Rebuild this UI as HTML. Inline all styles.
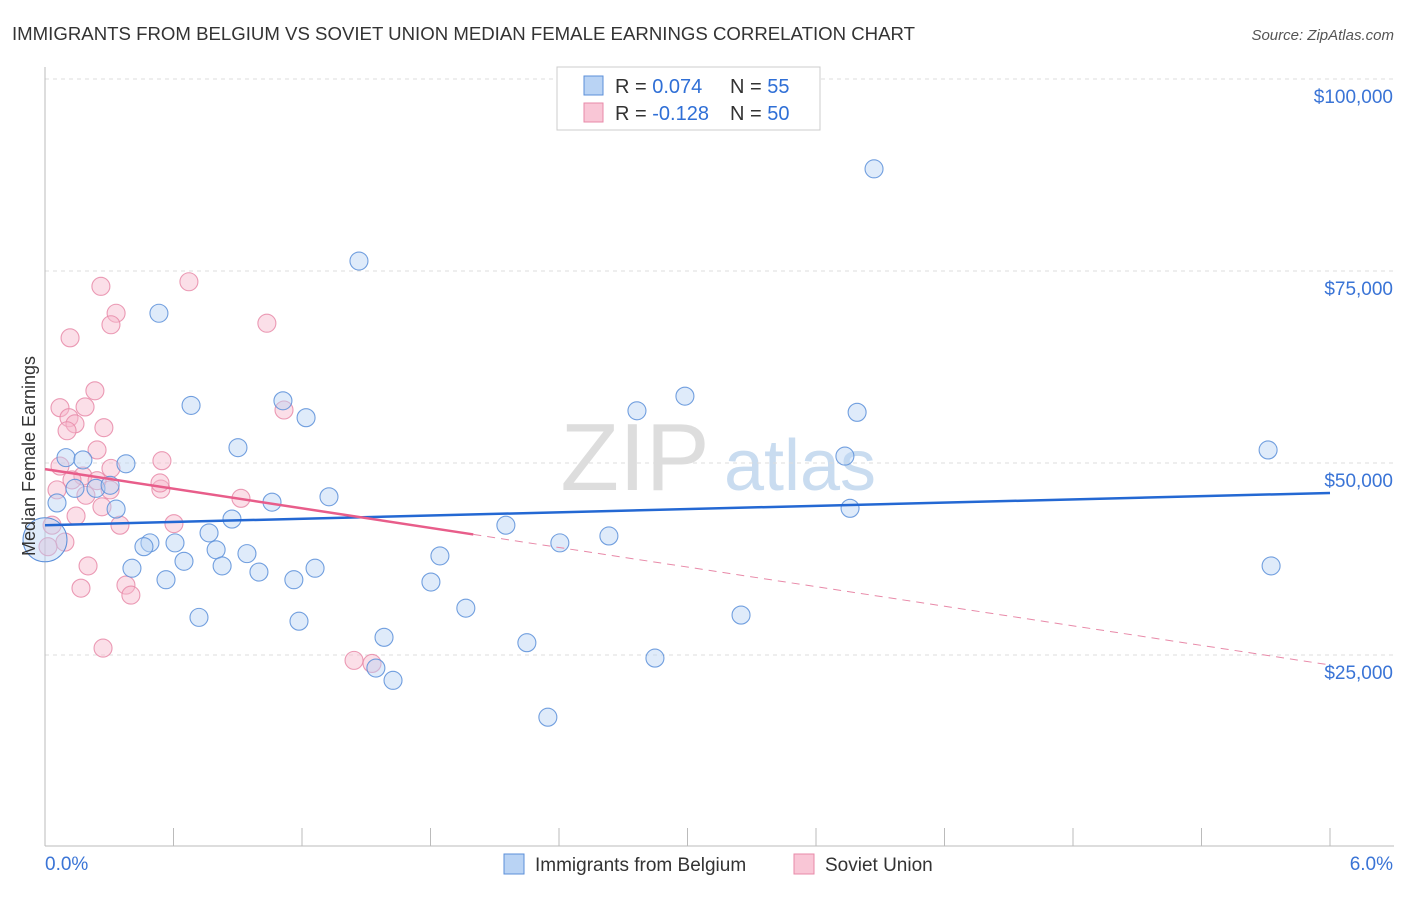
<!DOCTYPE html>
<html><head><meta charset="utf-8"><style>
body{margin:0;background:#fff;font-family:"Liberation Sans",sans-serif}
svg text{font-family:"Liberation Sans",sans-serif}
</style></head><body>
<svg id="chart" width="1406" height="892" xmlns="http://www.w3.org/2000/svg">
<text x="12" y="40" font-size="18" fill="#333" textLength="903" lengthAdjust="spacingAndGlyphs">IMMIGRANTS FROM BELGIUM VS SOVIET UNION MEDIAN FEMALE EARNINGS CORRELATION CHART</text>
<text x="1394" y="40" font-size="15" fill="#555" font-style="italic" text-anchor="end">Source: ZipAtlas.com</text>
<g><text x="635" y="490" font-size="96" fill="#ddd" font-family="Liberation Serif" text-anchor="middle">ZIP</text><text x="800" y="490" font-size="72" fill="#c9dcf0" text-anchor="middle">atlas</text></g>
<g id="grid"></g>
<g id="axes"></g>
<g id="marks"></g>
<text transform="translate(35,456) rotate(-90)" font-size="18" fill="#333" text-anchor="middle">Median Female Earnings</text>
<g>
<rect x="557" y="67" width="263" height="63" fill="#fff" stroke="#ccc"/>
<rect x="584" y="76" width="19" height="19" fill="#b9d3f4" stroke="#5b8fd9"/>
<rect x="584" y="103" width="19" height="19" fill="#f9c6d6" stroke="#e88aa8"/>
<text x="615" y="93" font-size="20" fill="#333">R = <tspan fill="#2f6fd6">0.074</tspan><tspan x="730">N = </tspan><tspan fill="#2f6fd6">55</tspan></text>
<text x="615" y="120" font-size="20" fill="#333">R = <tspan fill="#2f6fd6">-0.128</tspan><tspan x="730">N = </tspan><tspan fill="#2f6fd6">50</tspan></text>
</g>
<g>
<rect x="504" y="854" width="20" height="20" fill="#b9d3f4" stroke="#5b8fd9"/>
<text x="535" y="871" font-size="19" fill="#333">Immigrants from Belgium</text>
<rect x="794" y="854" width="20" height="20" fill="#f9c6d6" stroke="#e88aa8"/>
<text x="825" y="871" font-size="19" fill="#333">Soviet Union</text>
</g>
</svg>
<script>
const yTicks=[25000,50000,75000,100000];
const yTickLabels=["$25,000","$50,000","$75,000","$100,000"];
const xTickLabels=["0.0%","6.0%"];
const blueX=[3.871,1.466,0.532,0.682,1.111,1.219,0.901,0.378,0.098,0.177,0.140,0.238,0.304,0.056,0.332,1.060,1.326,0.873,0.766,0.490,0.462,0.607,0.799,0.943,0.649,0.827,0.406,0.565,0.999,1.162,1.261,0.719,1.186,1.583,1.545,1.625,1.802,1.844,1.965,2.152,2.250,2.348,2.404,2.633,2.764,2.988,2.848,3.250,3.735,3.759,3.792,5.711,5.725];
const blueY=[88.3,76.3,69.5,57.5,58.1,55.9,52.0,49.9,50.7,50.4,46.7,46.7,47.1,44.8,44.0,44.9,45.6,42.7,40.9,39.6,39.1,39.6,38.7,38.2,37.2,36.6,36.3,34.8,35.8,34.8,36.3,29.9,29.4,27.3,23.3,21.7,34.5,37.9,31.1,41.9,26.6,16.9,39.6,40.5,56.8,58.7,24.6,30.2,50.9,44.1,56.6,51.7,36.6];
const pinkX=[0.261,0.672,0.332,0.308,1.036,0.117,0.233,0.070,0.187,0.112,0.140,0.103,0.275,0.243,1.116,0.546,0.070,0.308,0.177,0.126,0.243,0.304,0.056,0.541,0.537,0.915,0.191,0.266,0.145,0.033,0.350,0.602,0.093,0.014,0.201,0.168,0.378,0.401,0.271,1.443,1.527];
const pinkY=[73.0,73.6,69.5,68.0,68.2,66.3,59.4,57.2,57.3,55.9,55.1,54.2,54.6,51.7,56.9,50.3,49.6,49.3,48.3,47.8,47.7,46.5,46.5,46.6,47.4,45.4,45.8,44.3,43.1,41.9,41.9,42.1,39.7,39.1,36.6,33.7,34.1,32.8,25.9,24.3,23.9];
const blueTrend=[41.9,46.1];
const pinkTrend=[49.2,23.7];
const pinkSolidEnd=2.0;
const X=v=>45+v/6*1285, Y=v=>847-v*1000/25000*192;
const NS="http://www.w3.org/2000/svg";
function mk(p,t,a){const e=document.createElementNS(NS,t);for(const k in a)e.setAttribute(k,a[k]);p.appendChild(e);return e;}
const grid=document.getElementById('grid'),axes=document.getElementById('axes'),marks=document.getElementById('marks');
yTicks.forEach((t,i)=>{const l=mk(grid,'line',{x1:45,x2:1394,y1:Y(t/1000),y2:Y(t/1000),stroke:'#ddd','stroke-dasharray':'4,4'});


const tx=mk(axes,'text',{x:1393,y:Y(t/1000)+24,'font-size':19,fill:'#3a74d6','text-anchor':'end'});tx.textContent=yTickLabels[i];

});
mk(axes,'line',{x1:45,x2:45,y1:67,y2:846,stroke:'#bbb'});
mk(axes,'line',{x1:45,x2:1394,y1:846,y2:846,stroke:'#bbb'});
for(let i=0;i<=10;i++){const t=mk(axes,'line',{x1:X(i*0.6),x2:X(i*0.6),y1:828,y2:846,stroke:'#bbb'});

}
[[0,'start',45],[6,'end',1393]].forEach((d,i)=>{const t=mk(axes,'text',{x:d[2],y:870,'font-size':19,fill:'#3a74d6','text-anchor':d[1]});t.textContent=xTickLabels[i];

});
function dots(xs,ys,f,s,name){xs.forEach((x,i)=>{const c=mk(marks,'circle',{cx:X(x),cy:Y(ys[i]),r:9,fill:f,'fill-opacity':0.45,stroke:s,'stroke-width':1.1,'stroke-opacity':0.85});

});}
dots(pinkX,pinkY,'#f7b9cd','#e889a8','soviet-point');
dots(blueX,blueY,'#b9d3f4','#5b8fd9','belgium-point');
const big=mk(marks,'circle',{cx:X(0),cy:Y(40),r:22,fill:'#b9d3f4','fill-opacity':0.45,stroke:'#5b8fd9'});


const bl=mk(marks,'line',{x1:X(0),y1:Y(blueTrend[0]),x2:X(6),y2:Y(blueTrend[1]),stroke:'#2468d3','stroke-width':2.5});


const py=x=>pinkTrend[0]+(pinkTrend[1]-pinkTrend[0])*x/6;
const pl=mk(marks,'line',{x1:X(0),y1:Y(py(0)),x2:X(pinkSolidEnd),y2:Y(py(pinkSolidEnd)),stroke:'#e85d8a','stroke-width':2.5});


const pd=mk(marks,'line',{x1:X(pinkSolidEnd),y1:Y(py(pinkSolidEnd)),x2:X(6),y2:Y(py(6)),stroke:'#e889a8','stroke-width':1,'stroke-dasharray':'8,6'});


</script>
</body></html>
